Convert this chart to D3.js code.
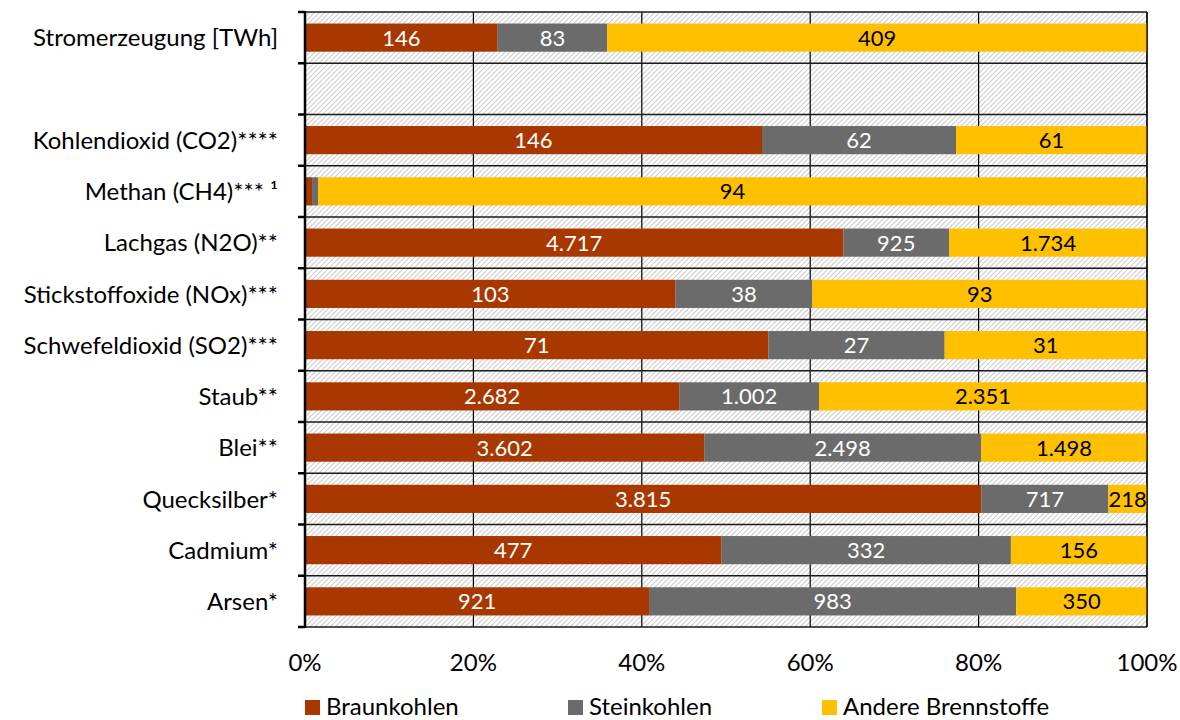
<!DOCTYPE html>
<html>
<head>
<meta charset="utf-8">
<script src="https://cdn.jsdelivr.net/npm/d3@7"></script>
<style>
  html, body { margin: 0; padding: 0; background: #fff; }
  svg { display: block; font-family: Lato, "Open Sans", sans-serif; }
</style>
</head>
<body>
<svg id="chart" width="1180" height="720"></svg>
<script>
// Emissions by fuel type, shown as shares of each row total
const categories = [
  "Stromerzeugung [TWh]", "",
  "Kohlendioxid (CO2)****", "Methan (CH4)*** ¹", "Lachgas (N2O)**",
  "Stickstoffoxide (NOx)***", "Schwefeldioxid (SO2)***", "Staub**",
  "Blei**", "Quecksilber*", "Cadmium*", "Arsen*"
];
const seriesNames = ["Braunkohlen", "Steinkohlen", "Andere Brennstoffe"];
const braunkohlen = [146, 0, 146, 0.8, 4717, 103, 71, 2682, 3602, 3815, 477, 921];
const steinkohlen = [83, 0, 62, 0.7, 925, 38, 27, 1002, 2498, 717, 332, 983];
const andere      = [409, 0, 61, 94, 1734, 93, 31, 2351, 1498, 218, 156, 350];
const tickLabels  = [0, 0.2, 0.4, 0.6, 0.8, 1.0];

const colors = ["#A83800", "#6B6B6B", "#FFC000"];
const textColors = ["#ffffff", "#ffffff", "#000000"];

const svg = d3.select("#chart");
const margin = { left: 305, right: 33, top: 12, bottom: 93 };
const W = 1180, H = 720;
const innerW = W - margin.left - margin.right;
const innerH = H - margin.top - margin.bottom;

const de = d3.formatLocale({ decimal: ",", thousands: ".", grouping: [3], currency: ["", " €"] });
const fmt = de.format(",.0f");

const rows = categories.map((c, i) => {
  const vals = [braunkohlen[i], steinkohlen[i], andere[i]];
  const total = d3.sum(vals);
  let acc = 0;
  const segs = vals.map((v, k) => {
    const s = { idx: i, k, v, x0: total ? acc / total : 0, x1: total ? (acc + v) / total : 0 };
    acc += v;
    return s;
  });
  return { cat: c, idx: i, segs, total };
});

const x = d3.scaleLinear().domain([0, 1]).range([0, innerW]);
const y = d3.scaleBand().domain(d3.range(categories.length)).range([0, innerH]).paddingInner(0.45).paddingOuter(0.225);
const rowH = innerH / categories.length;

// hatch pattern for the plot background
const defs = svg.append("defs");
const pat = defs.append("pattern").attr("id", "hatch").attr("patternUnits", "userSpaceOnUse")
  .attr("width", 5).attr("height", 5);
pat.append("rect").attr("width", 5).attr("height", 5).attr("fill", "#fff");
pat.append("path").attr("d", "M-1,1 l2,-2 M0,5 l5,-5 M4,6 l2,-2")
  .attr("stroke", "#cfcfcf").attr("stroke-width", 1.2);

const g = svg.append("g").attr("transform", `translate(${margin.left},${margin.top})`);

g.append("rect").attr("width", innerW).attr("height", innerH).attr("fill", "url(#hatch)");

// vertical gridlines
g.append("g").selectAll("line").data(tickLabels.slice(1)).join("line")
  .attr("x1", d => x(d)).attr("x2", d => x(d)).attr("y1", 0).attr("y2", innerH)
  .attr("stroke", "#000").attr("stroke-width", 1.2);

// horizontal row separators
g.append("g").selectAll("line").data(d3.range(categories.length + 1)).join("line")
  .attr("x1", 0).attr("x2", innerW)
  .attr("y1", d => d * rowH).attr("y2", d => d * rowH)
  .attr("stroke", "#1a1a1a").attr("stroke-width", 1.6);

// bars
const rowG = g.append("g").selectAll("g").data(rows.filter(r => r.total > 0)).join("g");
rowG.selectAll("rect").data(r => r.segs).join("rect")
  .attr("x", d => x(d.x0))
  .attr("width", d => x(d.x1) - x(d.x0))
  .attr("y", d => y(d.idx))
  .attr("height", y.bandwidth())
  .attr("fill", d => colors[d.k]);

// value labels, skipped on segments too narrow to hold them
rowG.selectAll("text").data(r => r.segs.filter(s => x(s.x1) - x(s.x0) > 20)).join("text")
  .attr("x", d => (x(d.x0) + x(d.x1)) / 2)
  .attr("y", d => y(d.idx) + y.bandwidth() / 2)
  .attr("dy", "0.36em")
  .attr("text-anchor", "middle")
  .attr("font-size", 22)
  .attr("fill", d => textColors[d.k])
  .text(d => fmt(d.v));

// right border
g.append("line").attr("x1", innerW).attr("x2", innerW).attr("y1", 0).attr("y2", innerH)
  .attr("stroke", "#000").attr("stroke-width", 1.2);

// left axis with ticks at row boundaries
g.append("line").attr("x1", 0).attr("x2", 0).attr("y1", -1).attr("y2", innerH + 1)
  .attr("stroke", "#000").attr("stroke-width", 2.5);
g.append("g").selectAll("line").data(d3.range(categories.length + 1)).join("line")
  .attr("x1", -7).attr("x2", 0)
  .attr("y1", d => d * rowH).attr("y2", d => d * rowH)
  .attr("stroke", "#000").attr("stroke-width", 2.5);

// category labels
g.append("g").selectAll("text").data(categories).join("text")
  .attr("x", -27)
  .attr("y", (d, i) => i * rowH + rowH / 2)
  .attr("dy", "0.36em")
  .attr("text-anchor", "end")
  .attr("font-size", 24)
  .attr("fill", "#000")
  .text(d => d);

// x axis tick labels
const pct = d3.format(".0%");
g.append("g").selectAll("text").data(tickLabels).join("text")
  .attr("x", d => x(d))
  .attr("y", innerH + 35)
  .attr("dy", "0.36em")
  .attr("text-anchor", "middle")
  .attr("font-size", 24)
  .attr("fill", "#000")
  .text(d => pct(d));

// legend
const legendX = [305, 568, 822];
const lg = svg.append("g").selectAll("g").data(seriesNames).join("g")
  .attr("transform", (d, i) => `translate(${legendX[i]},706)`);
lg.append("rect").attr("x", 0).attr("y", -6).attr("width", 15).attr("height", 15)
  .attr("fill", (d, i) => colors[i]);
lg.append("text").attr("x", 21).attr("y", 0).attr("dy", "0.36em")
  .attr("font-size", 24).attr("fill", "#000").text(d => d);
</script>
</body>
</html>
